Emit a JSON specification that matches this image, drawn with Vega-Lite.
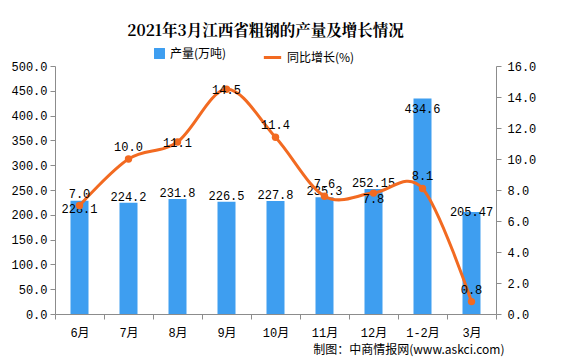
{
  "$schema": "https://vega.github.io/schema/vega-lite/v6.json",
  "width": 441,
  "height": 248,
  "autosize": "none",
  "padding": {"left": 55, "top": 66, "right": 80, "bottom": 45},
  "background": "white",
  "title": {
    "text": "2021年3月江西省粗钢的产量及增长情况",
    "font": "Noto Serif CJK SC, Noto Sans CJK SC",
    "fontSize": 15.5,
    "fontWeight": "bold",
    "color": "#000000",
    "anchor": "middle",
    "dx": -10,
    "offset": 8
  },
  "config": {
    "view": {"stroke": null},
    "axis": {
      "labelFont": "Liberation Mono, Noto Sans CJK SC",
      "labelFontSize": 12,
      "labelColor": "#000000",
      "domainColor": "#8c8c8c",
      "tickColor": "#8c8c8c",
      "grid": false,
      "tickSize": 5
    }
  },
  "data": {
    "values": [
      {"month": "6月", "output": 228.1, "outLabel": "228.1", "growth": 7.0},
      {"month": "7月", "output": 224.2, "outLabel": "224.2", "growth": 10.0},
      {"month": "8月", "output": 231.8, "outLabel": "231.8", "growth": 11.1},
      {"month": "9月", "output": 226.5, "outLabel": "226.5", "growth": 14.5},
      {"month": "10月", "output": 227.8, "outLabel": "227.8", "growth": 11.4},
      {"month": "11月", "output": 235.3, "outLabel": "235.3", "growth": 7.6},
      {"month": "12月", "output": 252.15, "outLabel": "252.15", "growth": 7.8},
      {"month": "1-2月", "output": 434.6, "outLabel": "434.6", "growth": 8.1},
      {"month": "3月", "output": 205.47, "outLabel": "205.47", "growth": 0.8}
    ]
  },
  "encoding": {
    "x": {
      "field": "month",
      "type": "nominal",
      "sort": null,
      "scale": {"paddingInner": 0, "paddingOuter": 0},
      "axis": {
        "labelAngle": 0,
        "tickBand": "extent",
        "labelPadding": 8,
        "title": "制图：中商情报网(www.askci.com)",
        "titleFont": "Noto Sans CJK SC",
        "titleFontSize": 12,
        "titleFontWeight": "normal",
        "titleColor": "#000000",
        "titleAnchor": "end",
        "titleAlign": "right",
        "titleBaseline": "middle",
        "titleX": 449,
        "titleY": 35
      }
    }
  },
  "layer": [
    {
      "encoding": {
        "y": {
          "field": "output",
          "type": "quantitative",
          "scale": {"domain": [0, 500]},
          "axis": {"title": null, "orient": "left", "values": [0,50,100,150,200,250,300,350,400,450,500], "format": ".1f", "labelPadding": 3}
        }
      },
      "layer": [
        {
          "mark": {"type": "bar", "size": 18, "color": "#3E9EF0"},
          "encoding": {
            "color": {
              "datum": "产量(万吨)",
              "type": "nominal",
              "scale": {"range": ["#3E9EF0"]},
              "legend": {
                "orient": "none",
                "legendX": 98,
                "legendY": -19,
                "direction": "horizontal",
                "title": null,
                "symbolType": "square",
                "symbolSize": 120,
                "labelFont": "Noto Sans CJK SC",
                "labelFontSize": 12,
                "labelColor": "#000000"
              }
            }
          }
        },
        {
          "transform": [{"filter": {"not": {"field": "month", "oneOf": ["6月", "1-2月", "3月"]}}}],
          "mark": {"type": "text", "dy": -6, "font": "Liberation Mono", "fontSize": 12, "color": "#000000"},
          "encoding": {"text": {"field": "outLabel"}}
        },
        {
          "transform": [{"filter": {"field": "month", "oneOf": ["6月"]}}],
          "mark": {"type": "text", "dy": 8, "font": "Liberation Mono", "fontSize": 12, "color": "#000000"},
          "encoding": {"text": {"field": "outLabel"}}
        },
        {
          "transform": [{"filter": {"field": "month", "oneOf": ["1-2月"]}}],
          "mark": {"type": "text", "dy": 11, "font": "Liberation Mono", "fontSize": 12, "color": "#000000"},
          "encoding": {"text": {"field": "outLabel"}}
        },
        {
          "transform": [{"filter": {"field": "month", "oneOf": ["3月"]}}],
          "mark": {"type": "text", "dy": 0, "font": "Liberation Mono", "fontSize": 12, "color": "#000000"},
          "encoding": {"text": {"field": "outLabel"}}
        }
      ]
    },
    {
      "encoding": {
        "y": {
          "field": "growth",
          "type": "quantitative",
          "scale": {"domain": [0, 16]},
          "axis": {"title": null, "orient": "right", "values": [0,2,4,6,8,10,12,14,16], "format": ".1f", "labelPadding": 6}
        }
      },
      "layer": [
        {
          "mark": {"type": "line", "interpolate": "cardinal", "color": "#F26A21", "strokeWidth": 3},
          "encoding": {
            "color": {
              "datum": "同比增长(%)",
              "type": "nominal",
              "scale": {"range": ["#F26A21"]},
              "legend": {
                "orient": "none",
                "legendX": 207,
                "legendY": -19,
                "direction": "horizontal",
                "title": null,
                "symbolType": "stroke",
                "symbolStrokeWidth": 3,
                "symbolSize": 300,
                "labelFont": "Noto Sans CJK SC",
                "labelFontSize": 12,
                "labelColor": "#000000"
              }
            }
          }
        },
        {
          "mark": {"type": "point", "filled": true, "size": 55, "color": "#F26A21", "opacity": 1}
        },
        {
          "transform": [{"filter": {"not": {"field": "month", "oneOf": ["8月", "9月", "12月"]}}}],
          "mark": {"type": "text", "dy": -12, "font": "Liberation Mono", "fontSize": 12, "color": "#000000"},
          "encoding": {"text": {"field": "growth", "format": ".1f"}}
        },
        {
          "transform": [{"filter": {"field": "month", "oneOf": ["8月", "9月"]}}],
          "mark": {"type": "text", "dy": 1, "font": "Liberation Mono", "fontSize": 12, "color": "#000000"},
          "encoding": {"text": {"field": "growth", "format": ".1f"}}
        },
        {
          "transform": [{"filter": {"field": "month", "oneOf": ["12月"]}}],
          "mark": {"type": "text", "dy": 6, "font": "Liberation Mono", "fontSize": 12, "color": "#000000"},
          "encoding": {"text": {"field": "growth", "format": ".1f"}}
        }
      ]
    }
  ],
  "resolve": {"scale": {"y": "independent", "color": "independent"}}
}
